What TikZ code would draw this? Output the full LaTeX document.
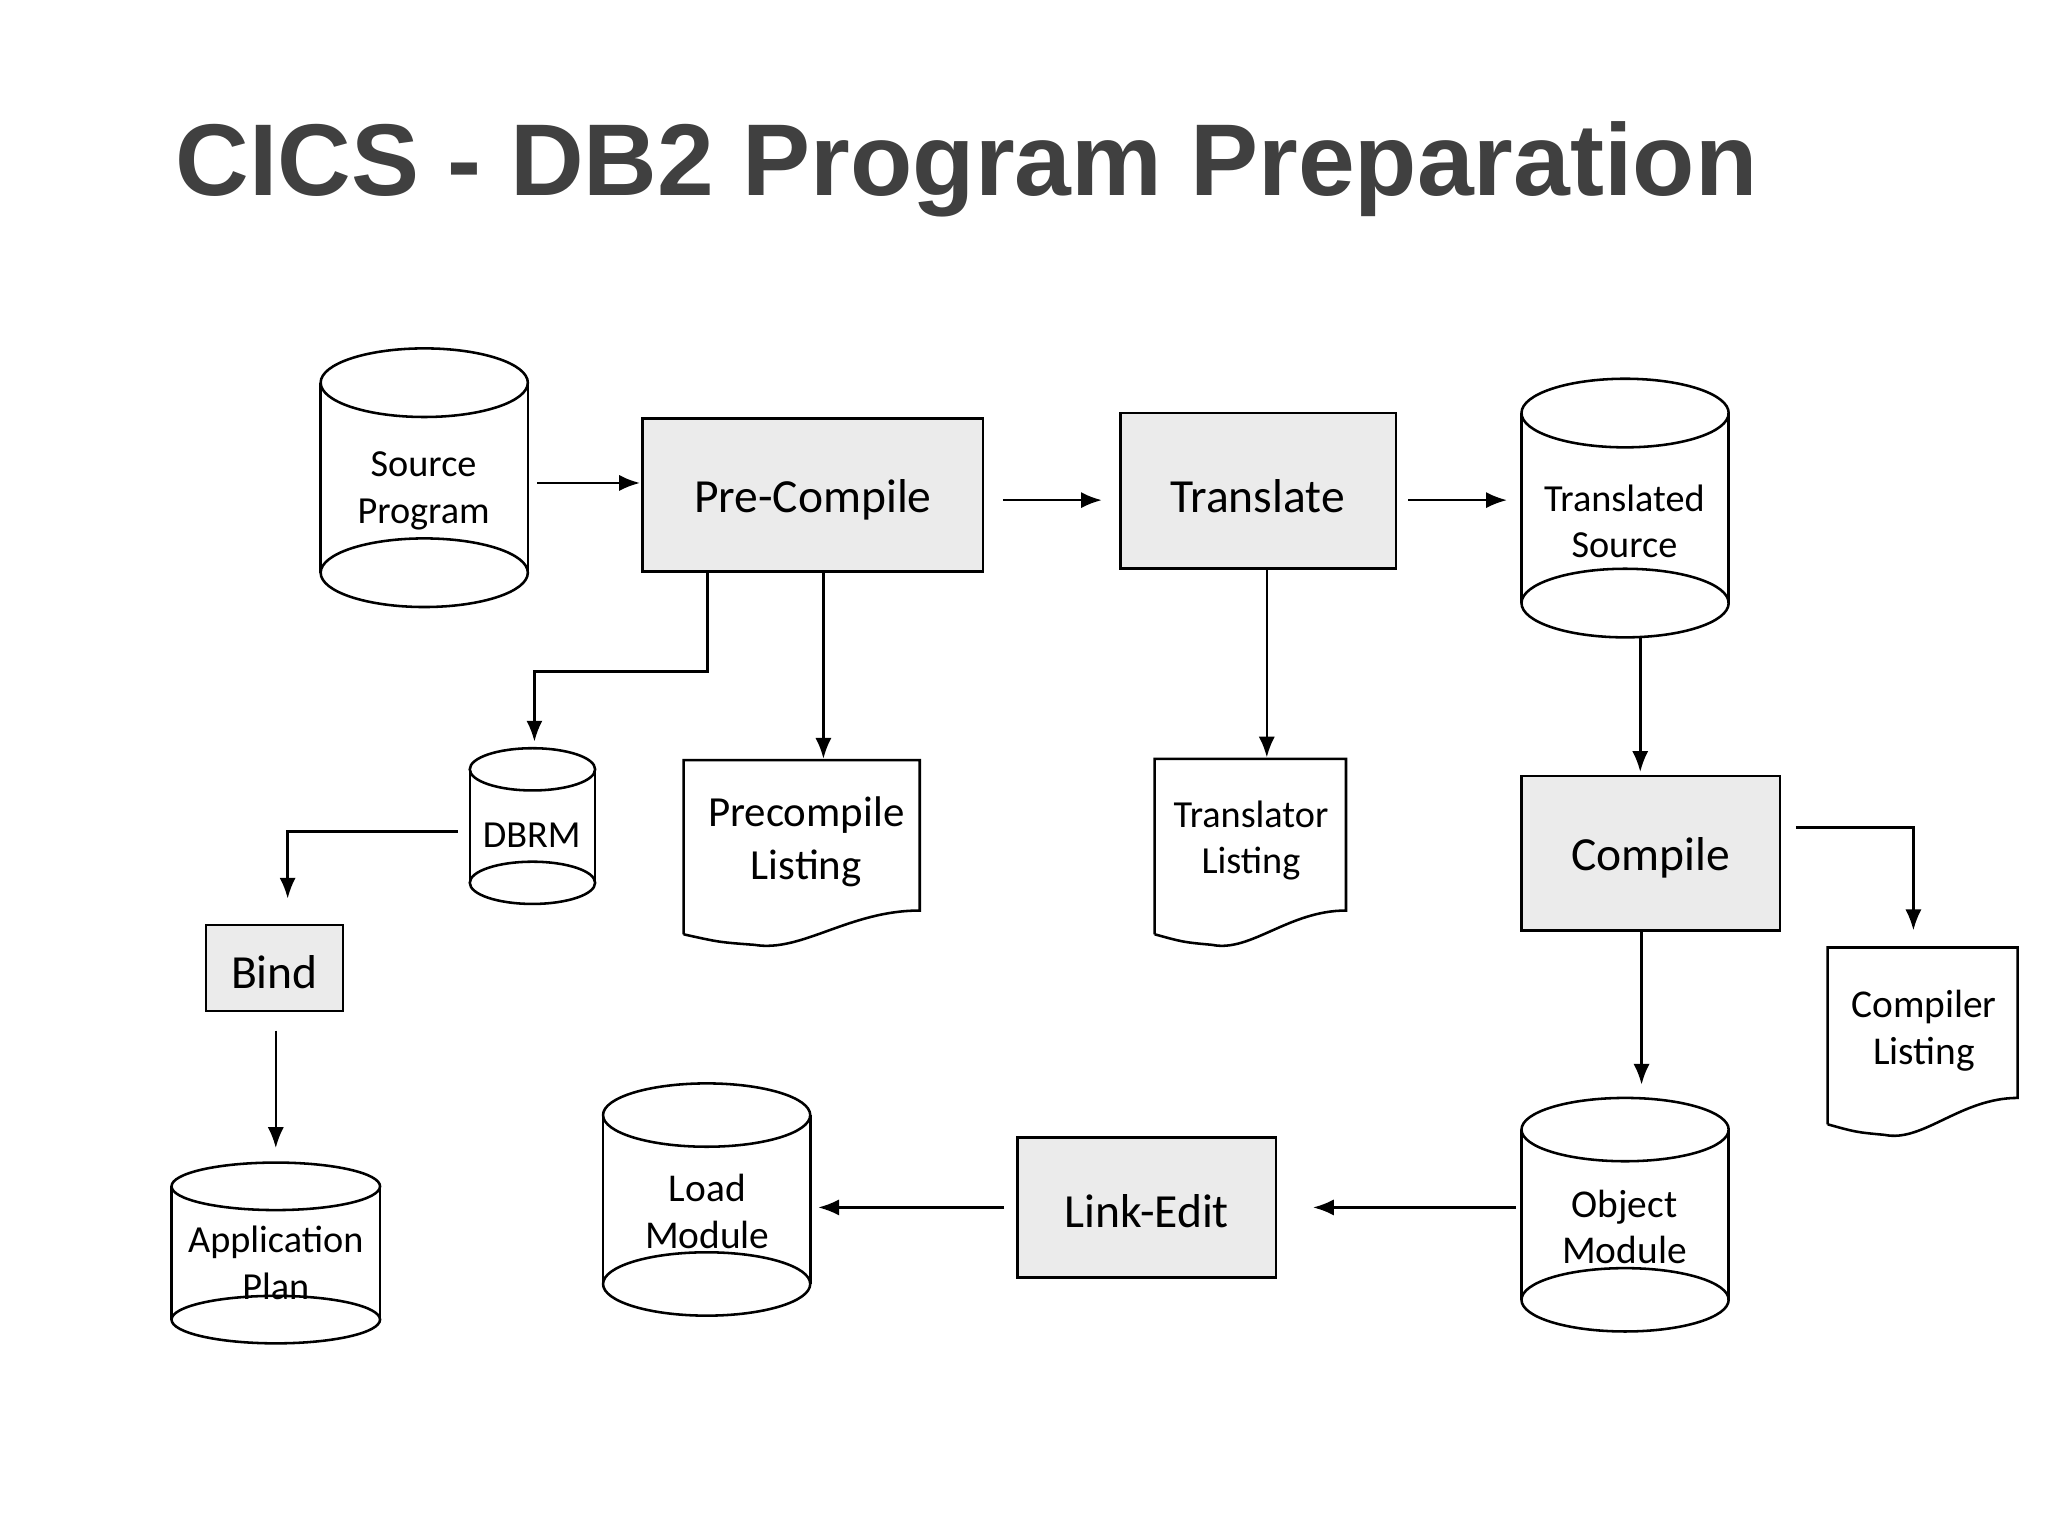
\documentclass[tikz,border=0pt]{standalone}
\usepackage{fontspec}
\setmainfont{Carlito}
\newfontfamily\titlefont{Liberation Sans}
\usetikzlibrary{arrows.meta}
\definecolor{boxfill}{HTML}{EBEBEB}
\definecolor{titlecol}{HTML}{404040}
\tikzset{
  ln/.style={line width=1.1pt},
  arr/.style={ln,-{Latex[length=9pt,width=7pt]}},
  proc/.style={ln,draw,fill=boxfill},
  lbl/.style={align=center,font=\fontsize{16.5}{20}\selectfont},
}
% cylinder: x1 x2 ytop ybottom ry
\newcommand{\mycyl}[5]{%
  \fill[white] (#1,#3) -- (#1,#4) arc[start angle=180,end angle=360,x radius={(#2-#1)/2},y radius=#5] -- (#2,#3) -- cycle;
  \draw[ln] ({(#1+#2)/2},#3) ellipse[x radius={(#2-#1)/2},y radius=#5];
  \draw[ln] ({(#1+#2)/2},#4) ellipse[x radius={(#2-#1)/2},y radius=#5];
  \draw[ln] (#1,#3) -- (#1,#4) (#2,#3) -- (#2,#4);}
% document: x1 x2 ytop yleftbottom yrightbottom
\newcommand{\mydoc}[5]{%
  \draw[ln] (#1,#4) -- (#1,#3) -- (#2,#3) -- (#2,#5)
   .. controls ({#1+0.7*(#2-#1)},#5) and ({#1+0.5*(#2-#1)},{#4+14}) .. ({#1+0.3*(#2-#1)},{#4+8})
   .. controls ({#1+0.15*(#2-#1)},{#4+6}) .. (#1,#4);}
\begin{document}
\begin{tikzpicture}[x=0.02cm,y=-0.02cm]
\useasboundingbox (0,0) rectangle (1552,1164);
\node[anchor=base west,font=\titlefont\bfseries\fontsize{44}{50}\selectfont,text=titlecol,inner sep=0] (title) at (133,148) {CICS - DB2 Program Preparation};

% cylinders
\mycyl{243}{400}{290}{434}{26}
\node[lbl] (src) at (321,372) {Source\\Program};
\mycyl{1153}{1310}{313}{457}{26}
\node[lbl] (tsrc) at (1231,395) {Translated\\Source};
\mycyl{356}{451}{583}{669}{16}
\node[lbl] (dbrm) at (403,633) {DBRM};
\mycyl{130}{288}{899}{1000}{18}
\node[lbl] (plan) at (209,957) {Application\\Plan};
\mycyl{457}{614}{845}{973}{24}
\node[lbl,font=\fontsize{17}{20}\selectfont] (load) at (536,918) {Load\\Module};
\mycyl{1153}{1310}{856}{985}{24}
\node[lbl,font=\fontsize{17}{20}\selectfont] (obj) at (1231,930) {Object\\Module};

% documents
\mydoc{518}{697}{576}{708}{690}
\node[lbl,font=\fontsize{18.5}{23}\selectfont] (pcl) at (611,638) {Precompile\\Listing};
\mydoc{875}{1020}{575}{708}{690}
\node[lbl,font=\fontsize{16.5}{20}\selectfont] (tl) at (948,637) {Translator\\Listing};
\mydoc{1385}{1529}{718}{852}{832}
\node[lbl,font=\fontsize{17}{20}\selectfont] (cl) at (1458,781) {Compiler\\Listing};

% process boxes
\draw[proc] (487,317) rectangle (745,433);
\node[font=\fontsize{20.5}{24}\selectfont] (pre) at (616,379) {Pre-Compile};
\draw[proc] (849,313) rectangle (1058,431);
\node[font=\fontsize{20.5}{24}\selectfont] (tr) at (953,376) {Translate};
\draw[proc] (1153,588) rectangle (1349,705);
\node[font=\fontsize{20.5}{24}\selectfont] (comp) at (1251,650) {Compile};
\draw[proc] (156,701) rectangle (260,766);
\node[font=\fontsize{20.5}{24}\selectfont] (bind) at (208,737) {Bind};
\draw[proc] (771,862) rectangle (967,968);
\node[font=\fontsize{20.5}{24}\selectfont] (le) at (869,918) {Link-Edit};

% arrows
\draw[arr] (407,366) -- (485,366);
\draw[arr] (760,379) -- (835,379);
\draw[arr] (1067,379) -- (1142,379);
\draw[arr] (536,433) -- (536,509) -- (405,509) -- (405,562);
\draw[arr] (624,433) -- (624,575);
\draw[arr] (960,431) -- (960,574);
\draw[arr] (1243,483) -- (1243,585);
\draw[arr] (1361,627) -- (1450,627) -- (1450,705);
\draw[arr] (1244,705) -- (1244,822);
\draw[arr] (1149,915) -- (995,915);
\draw[arr] (761,915) -- (620,915);
\draw[arr] (347,630) -- (218,630) -- (218,681);
\draw[arr] (209,781) -- (209,870);
\end{tikzpicture}
\end{document}
